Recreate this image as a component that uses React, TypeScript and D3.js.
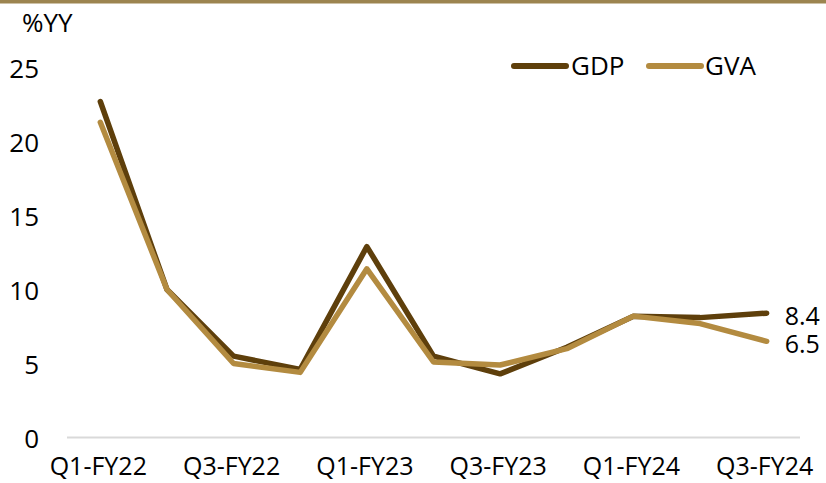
import React from 'react';
import {scaleLinear, scalePoint, line} from 'd3';

const categories = ['Q1-FY22', 'Q2-FY22', 'Q3-FY22', 'Q4-FY22', 'Q1-FY23', 'Q2-FY23', 'Q3-FY23', 'Q4-FY23', 'Q1-FY24', 'Q2-FY24', 'Q3-FY24'];
const gdp = [22.7, 10.0, 5.5, 4.6, 12.9, 5.5, 4.3, 6.1, 8.2, 8.1, 8.4];
const gva = [21.3, 10.0, 5.0, 4.4, 11.4, 5.1, 4.9, 6.0, 8.2, 7.7, 6.5];
const yTicks = [0, 5, 10, 15, 20, 25];
const xLabels = ['Q1-FY22', 'Q3-FY22', 'Q1-FY23', 'Q3-FY23', 'Q1-FY24', 'Q3-FY24'];

const W = 826;
const H = 483;
const FONT = '"Open Sans", sans-serif';
const FS = 25;
const GDP_COLOR = '#5e3f0b';
const GVA_COLOR = '#b38b40';

export default function App() {
  const x = scalePoint<string>().domain(categories).range([67, 800]).padding(0.5);
  const y = scaleLinear().domain([0, 25]).range([437.5, 67.5]);

  const mkLine = line<number>()
    .x((d, i) => x(categories[i]) as number)
    .y(d => y(d));

  const lastX = x(categories[categories.length - 1]) as number;

  return (
    <svg width={W} height={H} style={{position: 'absolute', left: 0, top: 0}} fontFamily={FONT}>
      <rect x={0} y={0} width={W} height={3.5} fill="#9c8450" />

      <text x={22} y={32} fontSize={FS + 1} fill="#000">%YY</text>

      {yTicks.map(t => (
        <text key={t} x={39} y={y(t)} fontSize={FS + 1} textAnchor="end" dominantBaseline="central" fill="#000">{t}</text>
      ))}

      <line x1={67} x2={800} y1={y(0)} y2={y(0)} stroke="#d9d9d9" strokeWidth={2} />

      {xLabels.map(c => (
        <text key={c} x={(x(c) as number) - 2} y={475} fontSize={FS} textAnchor="middle" fill="#000">{c}</text>
      ))}

      <path d={mkLine(gdp) || ''} fill="none" stroke={GDP_COLOR} strokeWidth={5.5} strokeLinejoin="round" strokeLinecap="round" />
      <path d={mkLine(gva) || ''} fill="none" stroke={GVA_COLOR} strokeWidth={5.5} strokeLinejoin="round" strokeLinecap="round" />

      <text x={lastX + 18} y={y(gdp[gdp.length - 1]) + 2} fontSize={FS} dominantBaseline="central" fill="#000">{gdp[gdp.length - 1].toFixed(1)}</text>
      <text x={lastX + 18} y={y(gva[gva.length - 1]) + 2} fontSize={FS} dominantBaseline="central" fill="#000">{gva[gva.length - 1].toFixed(1)}</text>

      <g>
        <line x1={514} x2={566} y1={66} y2={66} stroke={GDP_COLOR} strokeWidth={6} strokeLinecap="round" />
        <text x={571} y={75} fontSize={FS + 1} fill="#000">GDP</text>
        <line x1={649} x2={701} y1={66} y2={66} stroke={GVA_COLOR} strokeWidth={6} strokeLinecap="round" />
        <text x={705} y={75} fontSize={FS + 1} fill="#000">GVA</text>
      </g>
    </svg>
  );
}
